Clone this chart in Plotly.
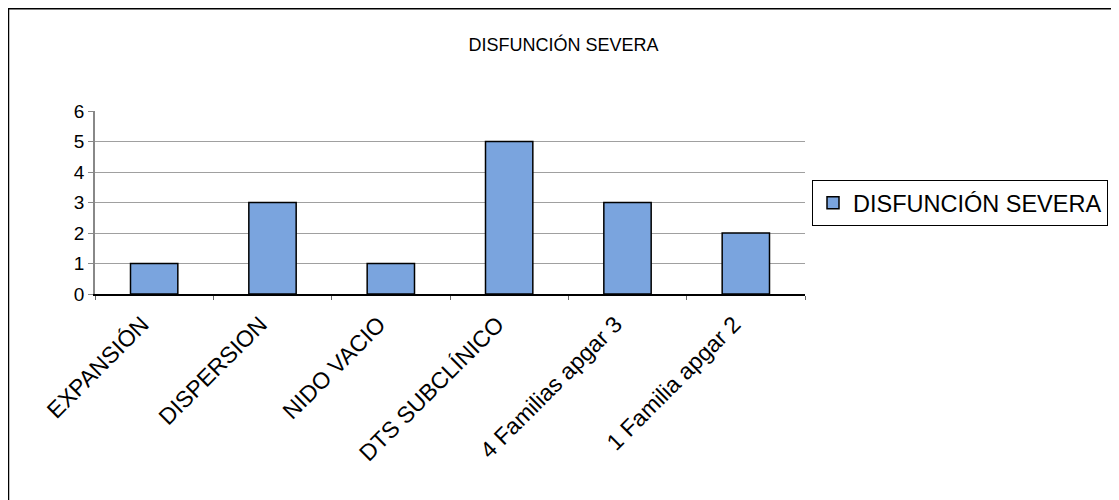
import plotly.graph_objects as go

categories = ["EXPANSIÓN", "DISPERSION", "NIDO VACIO", "DTS SUBCLÍNICO",
              "4 Familias apgar 3", "1 Familia apgar 2"]
values = [1, 3, 1, 5, 3, 2]
series_name = "DISFUNCIÓN SEVERA"
y_ticks = [0, 1, 2, 3, 4, 5, 6]

OFF = 8  # page body margin
W, H = 1119 - OFF, 500 - OFF
L, R, T, B = 95 - OFF, 805 - OFF, 111 - OFF, 294 - OFF

fig = go.Figure()
fig.add_trace(go.Bar(
    x=categories, y=values, name=series_name,
    marker=dict(color="#7aa4de", line=dict(color="black", width=1.5)),
    showlegend=True,
))

def px_x(p):
    return (p - OFF - L) / (R - L)

def px_y(p):
    return (B - (p - OFF)) / (B - T)

fig.update_layout(
    width=W, height=H,
    margin=dict(l=L, r=W - R, t=T, b=H - B, autoexpand=False),
    paper_bgcolor="white", plot_bgcolor="white",
    font=dict(family="Liberation Sans, Arial, sans-serif", color="black"),
    title=dict(text="DISFUNCIÓN SEVERA", x=0.5, xanchor="center",
               y=1 - (45 - OFF) / H, yanchor="middle", yref="container",
               font=dict(size=18)),
    bargap=0.6,
    showlegend=True,
    legend=dict(xref="container", yref="container",
                x=(812 - OFF) / W, y=1 - (180 - OFF) / H,
                xanchor="left", yanchor="top",
                bordercolor="black", borderwidth=1, bgcolor="white",
                font=dict(size=23.5), itemwidth=30),
    xaxis=dict(type="category", tickangle=-45, tickfont=dict(size=23),
               ticklabelshift=-12, ticklabelstandoff=6, automargin=False,
               showline=True, linecolor="black", linewidth=1.5,
               ticks="outside", tickson="boundaries", ticklen=4,
               tickcolor="#666", showgrid=False),
    yaxis=dict(range=[0, 6], tickvals=y_ticks, tickfont=dict(size=19),
               automargin=False,
               showline=True, linecolor="#888", linewidth=1.5,
               ticks="outside", ticklen=5, tickcolor="#888",
               showgrid=True, gridcolor="#a0a0a0", gridwidth=1.2,
               zeroline=False),
    shapes=[
        dict(type="line", xref="paper", yref="paper",
             x0=px_x(8), x1=px_x(1119), y0=px_y(8.5), y1=px_y(8.5),
             line=dict(color="black", width=2)),
        dict(type="line", xref="paper", yref="paper",
             x0=px_x(8.5), x1=px_x(8.5), y0=px_y(8), y1=px_y(500),
             line=dict(color="black", width=1.5)),
    ],
)

fig.write_html("out.html")
